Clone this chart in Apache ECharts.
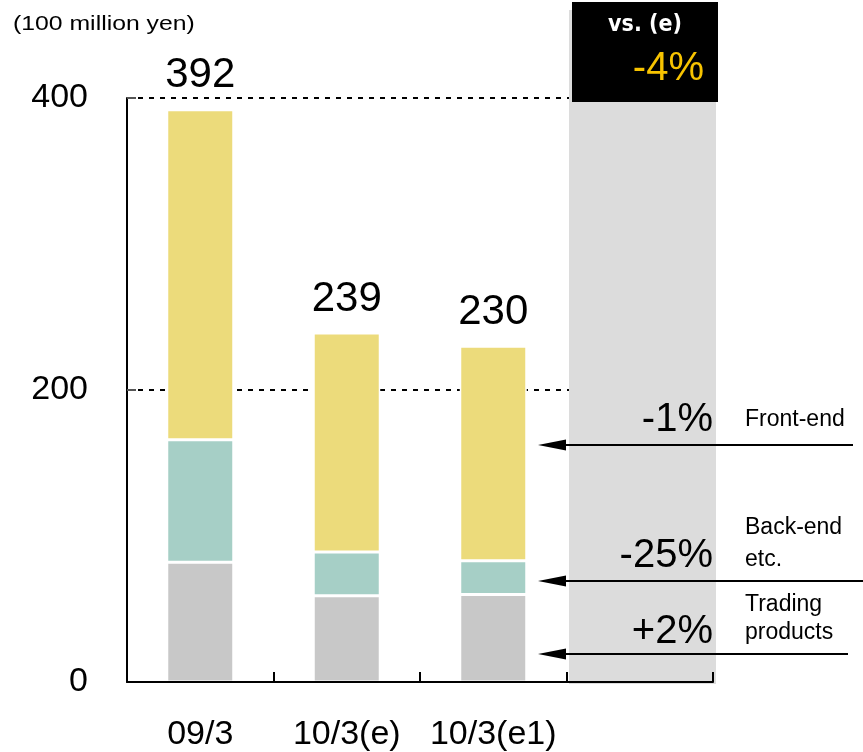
<!DOCTYPE html>
<html>
<head>
<meta charset="utf-8">
<script src="https://cdn.jsdelivr.net/npm/echarts@6/dist/echarts.min.js"></script>
<style>
html,body{margin:0;padding:0;background:#fff;}
#chart{width:863px;height:752px;}
</style>
</head>
<body>
<div id="chart"></div>
<script>
// ---- data ----
const categories = ['09/3', '10/3(e)', '10/3(e1)', ''];
const trading = [82, 59, 60, null];
const backEnd = [84, 30, 23, null];
const frontEnd = [226, 150, 147, null];
const totals = [392, 239, 230, null];
const yTickValues = [0, 200, 400];
const unitLabel = '(100 million yen)';
const vsLabel = 'vs. (e)';
const vsTotalChange = '-4%';
const segmentChanges = ['-1%', '-25%', '+2%'];
const segmentNames = [['Front-end'], ['Back-end', 'etc.'], ['Trading', 'products']];

const FONT = "'Liberation Sans', Arial, sans-serif";
const chart = echarts.init(document.getElementById('chart'), null, {renderer: 'canvas'});

function barSeries(name, data, color, withLabel) {
  const s = {
    name: name,
    type: 'bar',
    stack: 'total',
    data: data,
    barWidth: 67,
    itemStyle: {color: color, borderColor: '#ffffff', borderWidth: 1.5},
    emphasis: {disabled: true},
    z: 2
  };
  if (withLabel) {
    s.label = {
      show: true,
      position: 'top',
      distance: 13,
      fontSize: 42,
      fontFamily: FONT,
      color: '#000',
      formatter: p => (totals[p.dataIndex] == null ? '' : String(totals[p.dataIndex]))
    };
  }
  return s;
}

// annotation geometry (decoration, not data)
const arrowRows = [
  {y: 445, x2: 853, pctY: 420, nameY: [420]},
  {y: 581, x2: 863, pctY: 556, nameY: [528, 560]},
  {y: 654, x2: 848, pctY: 632, nameY: [605, 633]}
];

const graphics = [
  {type: 'rect', shape: {x: 569, y: 10, width: 147, height: 674}, style: {fill: '#dcdcdc'}, z: 1, silent: true},
  {type: 'rect', shape: {x: 572, y: 2, width: 146, height: 100}, style: {fill: '#000'}, z: 5, silent: true},
  {type: 'text', x: 645, y: 25, style: {text: vsLabel, fill: '#fff', font: "bold 23px 'DejaVu Sans Condensed', 'Liberation Sans Narrow', sans-serif", textAlign: 'center', textVerticalAlign: 'middle'}, z: 6},
  {type: 'text', x: 704, y: 69, style: {text: vsTotalChange, fill: '#f7c300', font: '40px ' + FONT, textAlign: 'right', textVerticalAlign: 'middle'}, z: 6},
  {type: 'text', x: 13, y: 24, scaleX: 1.18, style: {text: unitLabel, fill: '#000', font: '21px ' + FONT, textAlign: 'left', textVerticalAlign: 'middle'}, z: 6}
];
arrowRows.forEach((r, i) => {
  graphics.push({type: 'line', shape: {x1: 560, y1: r.y, x2: r.x2, y2: r.y}, style: {stroke: '#000', lineWidth: 2}, z: 10});
  graphics.push({type: 'polygon', shape: {points: [[538, r.y], [566, r.y - 5.5], [566, r.y + 5.5]]}, style: {fill: '#000'}, z: 10});
  graphics.push({type: 'text', x: 713, y: r.pctY, style: {text: segmentChanges[i], fill: '#000', font: '40px ' + FONT, textAlign: 'right', textVerticalAlign: 'middle'}, z: 10});
  segmentNames[i].forEach((t, j) => {
    graphics.push({type: 'text', x: 745, y: r.nameY[j], style: {text: t, fill: '#000', font: '23px ' + FONT, textAlign: 'left', textVerticalAlign: 'middle'}, z: 10});
  });
});

const option = {
  animation: false,
  backgroundColor: '#fff',
  grid: {left: 127, right: 150, top: 98, bottom: 67, containLabel: false},
  xAxis: {
    type: 'category',
    data: categories,
    axisLine: {show: true, lineStyle: {color: '#000', width: 2}},
    axisTick: {show: true, inside: true, length: 10, lineStyle: {color: '#000', width: 2}},
    axisLabel: {fontSize: 34, fontFamily: FONT, color: '#000', margin: 36, interval: 0},
    splitLine: {show: false},
    z: 3
  },
  yAxis: {
    type: 'value',
    min: 0,
    max: 400,
    interval: 200,
    axisLine: {show: true, lineStyle: {color: '#000', width: 2}},
    axisTick: {show: true, inside: true, length: 9, lineStyle: {color: '#555', width: 2}},
    axisLabel: {fontSize: 34, fontFamily: FONT, color: '#000', margin: 39,
      formatter: v => (yTickValues.indexOf(v) >= 0 ? String(v) : '')},
    splitLine: {show: true, lineStyle: {color: '#000', width: 2, type: [5, 6]}},
    z: 0
  },
  series: [
    barSeries('Trading products', trading, '#c8c8c8', false),
    barSeries('Back-end etc.', backEnd, '#a6cfc6', false),
    barSeries('Front-end', frontEnd, '#ecdb7b', true)
  ],
  graphic: {elements: graphics}
};
chart.setOption(option);
</script>
</body>
</html>
